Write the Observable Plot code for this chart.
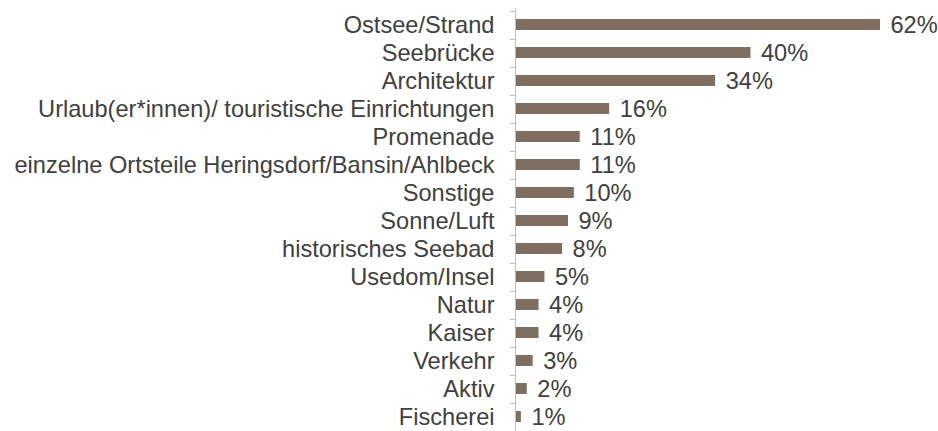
<!DOCTYPE html>
<html>
<head>
<meta charset="utf-8">
<script src="https://cdn.jsdelivr.net/npm/d3@7"></script>
<script src="https://cdn.jsdelivr.net/npm/@observablehq/plot@0.6"></script>
<style>
  html, body { margin: 0; padding: 0; background: #ffffff; }
  #chart svg { display: block; }
</style>
</head>
<body>
<div id="chart"></div>
<script>
const categories = [
  "Ostsee/Strand",
  "Seebrücke",
  "Architektur",
  "Urlaub(er*innen)/ touristische Einrichtungen",
  "Promenade",
  "einzelne Ortsteile Heringsdorf/Bansin/Ahlbeck",
  "Sonstige",
  "Sonne/Luft",
  "historisches Seebad",
  "Usedom/Insel",
  "Natur",
  "Kaiser",
  "Verkehr",
  "Aktiv",
  "Fischerei"
];
const values = [62, 40, 34, 16, 11, 11, 10, 9, 8, 5, 4, 4, 3, 2, 1];

const data = categories.map((c, i) => ({category: c, value: values[i]}));

const fontFamily = "'Liberation Sans', Arial, Helvetica, sans-serif";
const barColor = "#7f6f63";
const axisColor = "#bfbfbf";
const textColor = "#404040";

const chart = Plot.plot({
  width: 938,
  height: 431,
  marginTop: 9,
  marginBottom: 0,
  marginLeft: 515,
  marginRight: 58,
  style: {fontFamily, fontSize: "23.6px", background: "#ffffff"},
  x: {domain: [0, 62], axis: null},
  y: {domain: categories, paddingInner: 0.62, paddingOuter: 0.31, axis: null},
  marks: [
    Plot.barX(data, {x: "value", y: "category", fill: barColor}),
    Plot.ruleX([0], {stroke: axisColor, strokeWidth: 1}),
    Plot.text(data, {x: 0, y: "category", text: "category", textAnchor: "end", dx: -21, fill: textColor, fontSize: 23.6}),
    Plot.text(data, {x: "value", y: "category", text: d => d.value + "%", textAnchor: "start", dx: 10, fill: textColor, fontSize: 23.6})
  ]
});

// tick marks between categories, positioned with Plot's own y scale
const yScale = chart.scale("y");
const xScale = chart.scale("x");
const step = yScale.step ?? (Math.abs(yScale.range[1] - yScale.range[0]) / categories.length);
const x0 = xScale.apply(0);
const bounds = categories.map(c => yScale.apply(c) - (step - yScale.bandwidth) / 2);
bounds.push(bounds[bounds.length - 1] + step);
d3.select(chart).append("g")
  .attr("stroke", axisColor)
  .selectAll("line")
  .data(bounds)
  .join("line")
  .attr("x1", x0 - 5)
  .attr("x2", x0)
  .attr("y1", d => Math.round(d) + 0.5)
  .attr("y2", d => Math.round(d) + 0.5);

document.getElementById("chart").appendChild(chart);
</script>
</body>
</html>
